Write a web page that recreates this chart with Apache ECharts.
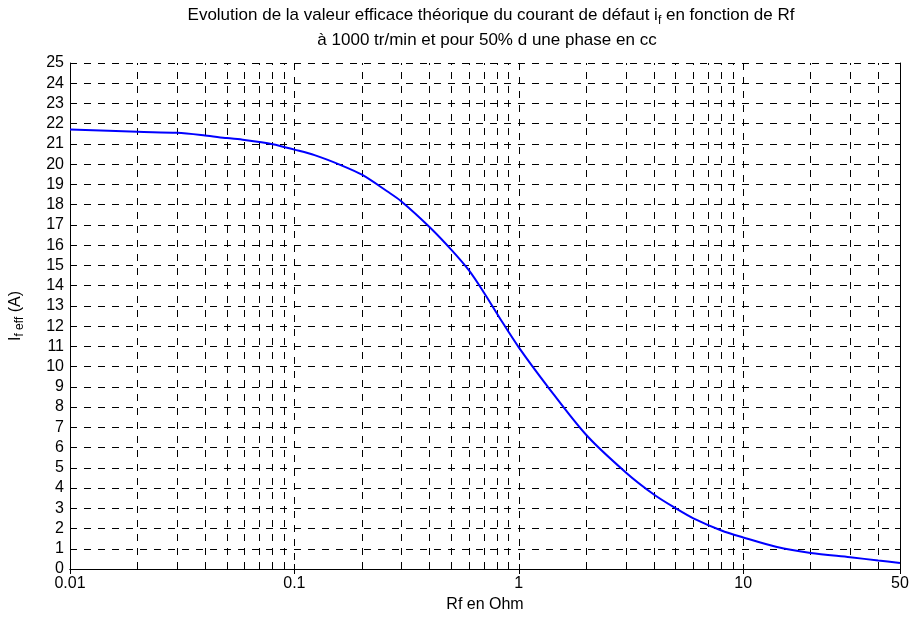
<!DOCTYPE html>
<html>
<head>
<meta charset="utf-8">
<script src="https://cdn.jsdelivr.net/npm/echarts@6/dist/echarts.min.js"></script>
<style>html,body{margin:0;padding:0;background:#fff;}#c{width:913px;height:618px;}</style>
</head>
<body>
<div id="c"></div>
<script>
// Rf (Ohm) and theoretical RMS fault current (A)
const rf = [0.01, 0.02, 0.03, 0.04, 0.05, 0.06, 0.08, 0.1, 0.123, 0.16, 0.2, 0.26, 0.3, 0.4, 0.5, 0.6, 0.7, 0.83, 1, 1.34, 2, 3, 4, 5, 6, 8, 10, 14, 20, 30, 40, 50];
const ifeff = [21.72, 21.6, 21.55, 21.42, 21.29, 21.2, 20.99, 20.72, 20.45, 19.97, 19.48, 18.65, 18.16, 16.9, 15.78, 14.75, 13.65, 12.33, 10.95, 9.04, 6.62, 4.77, 3.68, 3.0, 2.5, 1.9, 1.56, 1.1, 0.79, 0.58, 0.42, 0.30];
// minor logarithmic grid positions
const minorX = [0.02,0.03,0.04,0.05,0.06,0.07,0.08,0.09,0.2,0.3,0.4,0.5,0.6,0.7,0.8,0.9,2,3,4,5,6,7,8,9,20,30,40];
const titleLine1 = 'Evolution de la valeur efficace théorique du courant de défaut i';
const titleSub = 'f';
const titleLine1b = ' en fonction de Rf';
const titleLine2 = 'à 1000 tr/min et pour 50% d une phase en cc';
const xName = 'Rf en Ohm';

const FONT = '"Liberation Sans", Arial, Helvetica, sans-serif';
const FS = 16;
const TFS = 17;
const dash = [7, 7];

const chart = echarts.init(document.getElementById('c'));
const axisCommon = {
  axisLine: {show: true, lineStyle: {color: '#000', width: 1}},
  axisTick: {show: true, inside: true, length: 5, lineStyle: {color: '#000'}},
};
chart.setOption({
  animation: false,
  backgroundColor: '#fff',
  title: [
    {
      text: '{a|' + titleLine1 + '}{b|' + titleSub + '}{a|' + titleLine1b + '}',
      left: 486, top: -1, textAlign: 'center',
      textStyle: {
        fontWeight: 'normal',
        rich: {
          a: {fontFamily: FONT, fontSize: TFS, fontWeight: 'normal', color: '#000'},
          b: {fontFamily: FONT, fontSize: 12, fontWeight: 'normal', color: '#000', padding: [11, 0, 0, 0]}
        }
      }
    },
    {
      text: titleLine2,
      left: 482, top: 27, textAlign: 'center',
      textStyle: {fontFamily: FONT, fontSize: TFS, color: '#000', fontWeight: 'normal'}
    }
  ],
  grid: {left: 68, right: 13, top: 63, bottom: 48, containLabel: false},
  xAxis: [
    Object.assign({
      type: 'log', logBase: 10, min: 0.01, max: 50,
      name: xName, nameLocation: 'middle', nameGap: 28,
      nameTextStyle: {fontFamily: FONT, fontSize: FS, color: '#000'},
      axisLabel: {fontFamily: FONT, fontSize: FS, color: '#000', margin: 7},
      splitLine: {show: true, lineStyle: {color: '#000', width: 1, type: dash}}
    }, axisCommon),
    Object.assign({
      type: 'log', logBase: 10, min: 0.01, max: 50, position: 'top',
      axisLabel: {show: false}, splitLine: {show: false}
    }, axisCommon)
  ],
  yAxis: [
    Object.assign({
      type: 'value', min: 0, max: 25, interval: 1,
      name: '{a|I}{b|f eff}{a| (A)}', nameLocation: 'middle', nameGap: 44, nameRotate: 90,
      nameTextStyle: {
        rich: {
          a: {fontFamily: FONT, fontSize: FS, color: '#000'},
          b: {fontFamily: FONT, fontSize: 12, color: '#000', padding: [8, 0, 0, 0]}
        }
      },
      axisLabel: {fontFamily: FONT, fontSize: FS, color: '#000', margin: 6},
      splitLine: {show: true, lineStyle: {color: '#000', width: 1, type: dash}}
    }, axisCommon),
    Object.assign({
      type: 'value', min: 0, max: 25, interval: 1, position: 'right',
      axisLabel: {show: false}, splitLine: {show: false}
    }, axisCommon)
  ],
  series: [
    {
      type: 'line',
      data: rf.map((r, i) => [r, ifeff[i]]),
      smooth: 0.3,
      showSymbol: false,
      lineStyle: {color: '#0000ff', width: 2},
      itemStyle: {color: '#0000ff'},
      z: 5,
      markLine: {
        silent: true,
        symbol: ['none', 'none'],
        label: {show: false},
        animation: false,
        lineStyle: {color: '#000', width: 1, type: dash},
        data: minorX.map(v => ({xAxis: v}))
      }
    }
  ]
});
</script>
</body>
</html>
